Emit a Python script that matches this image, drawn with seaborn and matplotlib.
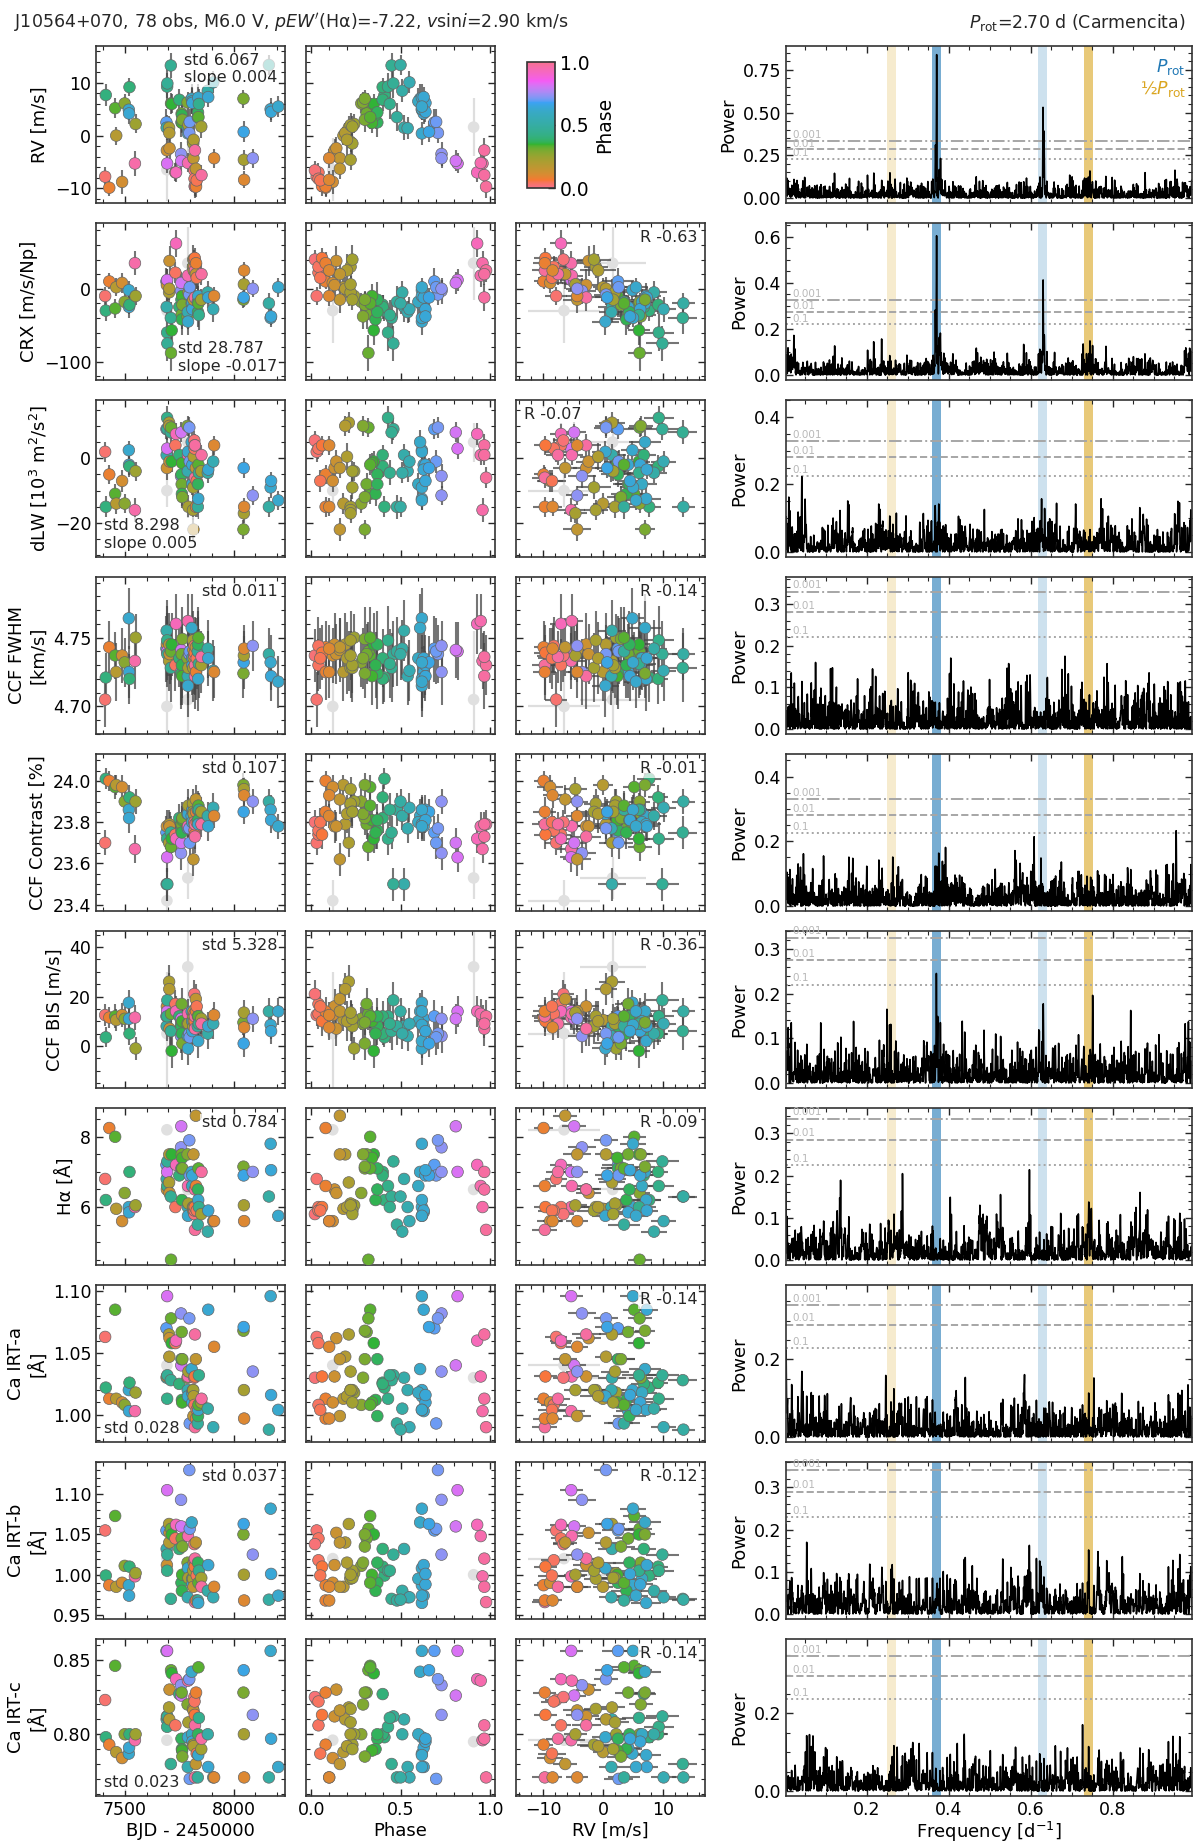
import numpy as np
import matplotlib
matplotlib.use("Agg")
import matplotlib.pyplot as plt
import matplotlib.transforms as mtransforms
from matplotlib.ticker import AutoMinorLocator
from matplotlib.cm import ScalarMappable
from matplotlib.colors import Normalize
import seaborn as sns

# ------------------------------------------------------------------ data
P_ROT = 2.70
T0 = 7400.0

day = [7409, 7412, 7428, 7455, 7460, 7487, 7499, 7518, 7519, 7521,
       7546, 7549, 7691, 7692, 7693, 7693, 7694, 7694, 7695, 7703,
       7704, 7705, 7711, 7712, 7715, 7732, 7735, 7750, 7758, 7759,
       7760, 7761, 7762, 7763, 7764, 7788, 7789, 7789, 7790, 7790,
       7792, 7796, 7798, 7807, 7809, 7810, 7813, 7814, 7815, 7816,
       7819, 7820, 7821, 7822, 7822, 7826, 7827, 7830, 7835, 7836,
       7837, 7838, 7840, 7851, 7852, 7881, 7883, 7906, 7910, 8045,
       8046, 8047, 8048, 8088, 8162, 8170, 8172, 8205]

phase = [0.03, 0.41, 0.08, 0.33, 0.18, 0.12, 0.28, 0.62, 0.63, 0.40,
         0.96, 0.24, 0.69, 0.52, 0.13, 0.12, 0.82, 0.43, 0.46, 0.21,
         0.19, 0.14, 0.45, 0.32, 0.35, 0.04, 0.93, 0.40, 0.73, 0.81,
         0.37, 0.31, 0.36, 0.34, 0.30, 0.29, 0.54, 0.91, 0.95, 0.62,
         0.22, 0.71, 0.70, 0.61, 0.60, 0.64, 0.22, 0.23, 0.16, 0.20,
         0.02, 0.04, 0.06, 0.98, 0.97, 0.16, 0.08, 0.05, 0.48, 0.37,
         0.62, 0.33, 0.44, 0.23, 0.97, 0.51, 0.63, 0.55, 0.10, 0.30,
         0.66, 0.22, 0.10, 0.73, 0.50, 0.62, 0.64, 0.62]

excluded_idx = [15, 37]

rv = [-7.8, 7.7, -9.9, 5.2, 0.0, -8.8, 6.1, 4.9, 4.2, 9.2,
      -5.3, 2.2, 2.5, 1.5, -2.8, -6.5, -5.3, 9.3, 9.9, 1.5,
      0.5, -2.4, 13.3, 6.1, 6.0, -7.0, -7.0, 6.8, -3.5, -4.8,
      2.5, 4.2, 3.9, 2.4, 3.0, 6.3, 1.4, 1.6, -5.2, 0.4,
      2.0, 0.5, 2.6, 7.0, 6.5, 6.2, -1.2, -1.5, -4.3, -0.8,
      -6.6, -8.2, -9.6, -9.7, -2.8, -6.3, -9.7, -8.5, 3.5, 4.4,
      7.2, 3.5, 6.0, 1.7, -7.5, 8.5, 7.3, 10.1, -4.3, 7.0,
      0.7, -4.6, -8.4, -4.3, 13.4, 5.0, 4.5, 5.5]
rv_err = [1.8, 2.0, 1.6, 1.9, 1.7, 2.2, 1.8, 1.9, 2.0, 1.7,
          2.3, 1.8, 2.6, 2.4, 2.2, 6.0, 1.9, 2.5, 2.7, 2.2,
          1.9, 2.1, 2.4, 2.0, 1.8, 1.7, 1.9, 2.1, 2.3, 2.0,
          2.8, 2.2, 2.6, 1.9, 2.4, 2.0, 2.1, 5.5, 1.8, 2.2,
          2.3, 2.0, 2.4, 2.7, 2.5, 2.2, 2.0, 2.9, 2.3, 3.0,
          1.8, 2.2, 1.9, 2.1, 2.4, 2.0, 1.9, 2.3, 2.6, 2.8,
          2.5, 2.3, 2.9, 2.1, 2.0, 2.2, 1.9, 2.1, 1.8, 1.7,
          2.0, 1.9, 1.6, 1.8, 1.9, 2.1, 1.9, 2.0]

crx = [-10, -30, 10, -27, 2, 8, -18, -2, -25, -22,
       35, -10, 10, -25, 5, -30, 12, -60, -75, -5,
       0, 38, -40, -88, -57, 22, 62, -25, -3, 8,
       -15, -35, -42, -10, -22, -38, -32, 35, 18, -45,
       -5, -8, 2, -20, -18, -28, 30, 40, -15, 25,
       40, 30, 42, 25, -12, 20, 35, 15, -18, -32,
       -10, -20, -36, -15, 20, -5, -12, -28, -10, -15,
       -12, 6, 25, 0, -20, -40, -38, 2]
crx_err = [12, 14, 11, 13, 12, 14, 12, 13, 15, 13,
           16, 12, 18, 20, 22, 45, 15, 25, 24, 18,
           16, 20, 22, 25, 20, 14, 18, 16, 18, 15,
           24, 20, 22, 16, 18, 17, 15, 50, 16, 18,
           15, 14, 16, 20, 18, 17, 15, 20, 18, 22,
           13, 15, 14, 16, 18, 20, 15, 16, 22, 20,
           18, 17, 20, 14, 15, 16, 14, 17, 13, 12,
           13, 12, 11, 12, 14, 13, 12, 13]

dlw = [2, -15, -5, -11, -14, -7, -14, 2.5, -2, -2.5,
       -16, -4, 9, 1, -3, -10, 3, 12.5, 9, 11,
       10, -1, 8, 9.5, -1, 4, 7.5, 1, -5.5, 8,
       -5, -8, -11, -1.5, -12, 10, -4, 5, 1, 2,
       -15, 9.5, -1, 5, -8, -2, -16, -9, -22, 0.5,
       5.5, 3, 4, -6, 4, -3, -15, -7, -15, -8,
       -12.5, -2, -4.5, -4, 1, -4.5, -3.5, -1, 4, -22,
       -3, -17, -15, -11.5, -15, -9, -7, -13]
dlw_err = [3.0, 3.2, 2.8, 3.1, 3.3, 3.5, 3.0, 2.9, 3.1, 3.4,
           3.6, 3.0, 3.2, 3.5, 3.8, 5.0, 3.3, 3.6, 3.4, 3.2,
           3.1, 3.5, 3.7, 3.0, 3.3, 2.9, 3.4, 3.2, 3.6, 3.1,
           3.9, 3.4, 3.6, 3.0, 3.5, 3.2, 3.3, 6.0, 3.1, 3.4,
           3.5, 3.2, 3.6, 3.8, 3.4, 3.3, 3.1, 3.7, 3.5, 4.2,
           2.9, 3.2, 3.0, 3.3, 3.6, 3.1, 3.0, 3.4, 3.8, 3.6,
           3.5, 3.3, 3.9, 3.1, 3.0, 3.2, 3.0, 3.3, 2.9, 2.8,
           3.0, 2.9, 2.8, 3.0, 3.1, 3.2, 2.9, 3.0]

fwhm = [4.705, 4.721, 4.743, 4.737, 4.725, 4.737, 4.732, 4.764, 4.725, 4.720,
        4.733, 4.750, 4.742, 4.755, 4.745, 4.700, 4.740, 4.748, 4.738, 4.733,
        4.745, 4.738, 4.728, 4.740, 4.745, 4.730, 4.760, 4.735, 4.725, 4.741,
        4.724, 4.738, 4.730, 4.722, 4.749, 4.735, 4.722, 4.705, 4.762, 4.715,
        4.728, 4.738, 4.740, 4.757, 4.735, 4.730, 4.748, 4.728, 4.741, 4.735,
        4.737, 4.744, 4.739, 4.730, 4.722, 4.743, 4.725, 4.735, 4.740, 4.745,
        4.720, 4.750, 4.731, 4.730, 4.736, 4.742, 4.735, 4.726, 4.725, 4.724,
        4.732, 4.737, 4.742, 4.744, 4.738, 4.732, 4.722, 4.718]
fwhm_err = [0.020, 0.018, 0.019, 0.017, 0.021, 0.020, 0.018, 0.022, 0.019, 0.018,
            0.020, 0.017, 0.024, 0.022, 0.023, 0.040, 0.021, 0.025, 0.024, 0.022,
            0.023, 0.022, 0.025, 0.021, 0.023, 0.019, 0.022, 0.021, 0.024, 0.020,
            0.026, 0.022, 0.024, 0.021, 0.023, 0.022, 0.021, 0.050, 0.020, 0.023,
            0.022, 0.021, 0.024, 0.025, 0.023, 0.022, 0.021, 0.025, 0.023, 0.026,
            0.019, 0.021, 0.020, 0.022, 0.024, 0.021, 0.020, 0.022, 0.025, 0.024,
            0.023, 0.022, 0.025, 0.020, 0.019, 0.021, 0.020, 0.022, 0.019, 0.018,
            0.019, 0.018, 0.017, 0.018, 0.019, 0.020, 0.018, 0.019]

contrast = [23.70, 24.01, 24.00, 23.97, 23.98, 23.97, 23.90, 23.86, 23.82, 23.92,
            23.67, 23.90, 23.75, 23.50, 23.78, 23.42, 23.63, 23.72, 23.50, 23.70,
            23.79, 23.78, 23.75, 23.68, 23.72, 23.74, 23.72, 23.82, 23.65, 23.70,
            23.76, 23.79, 23.75, 23.81, 23.82, 23.84, 23.77, 23.53, 23.78, 23.84,
            23.88, 23.77, 23.70, 23.83, 23.80, 23.86, 23.89, 23.85, 23.62, 23.84,
            23.80, 23.76, 23.74, 23.79, 23.73, 23.91, 23.85, 23.80, 23.86, 23.81,
            23.79, 23.88, 23.86, 23.85, 23.79, 23.83, 23.78, 23.87, 23.83, 23.98,
            23.85, 23.96, 23.93, 23.90, 23.90, 23.86, 23.81, 23.78]
contrast_err = [0.06, 0.05, 0.05, 0.06, 0.05, 0.06, 0.06, 0.06, 0.07, 0.06,
                0.07, 0.06, 0.08, 0.08, 0.08, 0.10, 0.07, 0.08, 0.08, 0.07,
                0.07, 0.07, 0.08, 0.07, 0.07, 0.06, 0.07, 0.07, 0.08, 0.07,
                0.09, 0.07, 0.08, 0.07, 0.08, 0.07, 0.07, 0.10, 0.07, 0.08,
                0.08, 0.07, 0.08, 0.08, 0.08, 0.07, 0.07, 0.08, 0.08, 0.09,
                0.06, 0.07, 0.07, 0.07, 0.08, 0.07, 0.07, 0.07, 0.08, 0.08,
                0.08, 0.07, 0.08, 0.07, 0.06, 0.07, 0.07, 0.07, 0.06, 0.06,
                0.06, 0.06, 0.06, 0.06, 0.06, 0.07, 0.06, 0.06]

bis = [12.5, 3.5, 11.5, 12.0, 10.5, 12.5, 11.0, 17.5, 11.0, 5.0,
       11.5, -1.0, 12.0, 8.0, 16.0, 5.0, 14.0, 12.0, 18.5, 26.0,
       23.0, 7.0, 6.0, 13.0, -2.0, 17.0, 14.0, 12.0, 4.0, 11.0,
       8.0, 17.0, 5.0, 10.0, 1.0, 9.0, 4.0, 32.0, 13.0, -1.0,
       9.0, 5.0, 3.5, 14.0, 10.0, 6.0, 12.0, 8.0, 14.0, 10.0,
       21.0, 13.0, 10.0, 12.0, 7.0, 19.0, 14.0, 16.0, 8.0, 12.0,
       2.0, 12.0, 9.0, 11.0, 9.0, 5.0, 8.0, 9.0, 12.5, 9.5,
       1.0, 13.5, 7.5, 11.0, 14.0, 8.5, 6.0, 14.0]
bis_err = [4.5, 4.0, 4.2, 4.8, 4.5, 5.0, 4.6, 5.2, 5.5, 4.8,
           5.0, 4.7, 6.5, 6.0, 7.0, 25.0, 6.2, 7.5, 7.2, 6.8,
           6.5, 7.0, 7.5, 6.4, 6.8, 5.5, 6.2, 6.0, 6.8, 6.0,
           7.8, 6.5, 7.0, 6.2, 6.8, 6.4, 6.2, 18.0, 5.8, 6.6,
           6.8, 6.2, 7.0, 7.5, 7.0, 6.5, 6.2, 7.4, 6.8, 8.0,
           5.5, 6.2, 5.8, 6.4, 7.0, 6.0, 5.8, 6.5, 7.5, 7.2,
           7.0, 6.6, 7.6, 6.0, 5.8, 6.4, 5.6, 6.2, 5.4, 5.0,
           5.4, 5.2, 5.0, 5.2, 5.4, 5.8, 5.2, 5.4]

halpha = [6.8, 6.2, 8.25, 8.0, 5.95, 5.6, 6.4, 6.0, 5.85, 7.0,
          6.0, 6.05, 7.2, 6.8, 6.5, 8.2, 7.0, 6.6, 7.3, 6.7,
          7.5, 6.4, 6.3, 4.5, 7.5, 6.0, 7.2, 6.9, 7.7, 8.3,
          7.1, 7.5, 6.2, 7.4, 7.1, 7.5, 6.0, 6.5, 6.6, 5.75,
          6.1, 7.9, 6.9, 7.0, 6.6, 6.9, 6.0, 5.9, 7.5, 6.0,
          5.8, 5.9, 6.0, 5.35, 6.5, 8.6, 6.6, 5.9, 5.5, 6.5,
          6.2, 7.1, 6.0, 5.8, 7.0, 5.3, 5.9, 5.6, 5.6, 7.15,
          6.9, 6.05, 5.6, 7.0, 6.3, 7.8, 7.05, 5.75]

irt_a = [1.063, 1.022, 1.013, 1.085, 1.013, 1.010, 1.008, 1.020, 1.003, 1.026,
         1.003, 1.018, 1.070, 1.030, 1.031, 1.040, 1.096, 1.013, 1.032, 1.065,
         1.047, 1.062, 1.028, 1.078, 1.058, 1.058, 1.060, 1.025, 1.082, 1.040,
         1.045, 1.067, 1.012, 1.010, 1.045, 1.030, 1.020, 1.030, 1.031, 1.015,
         1.035, 1.078, 0.993, 1.037, 1.018, 1.010, 1.020, 1.020, 0.999, 1.015,
         1.030, 1.008, 1.031, 0.990, 1.065, 1.045, 0.997, 1.004, 0.993, 0.999,
         1.004, 1.008, 1.032, 1.010, 1.013, 1.005, 1.085, 0.990, 1.055, 1.068,
         1.071, 1.020, 0.997, 1.035, 0.988, 1.096, 1.016, 1.004]

irt_b = [1.055, 0.999, 0.987, 1.073, 0.985, 0.990, 1.011, 0.987, 0.974, 1.010,
         0.998, 1.002, 1.055, 1.032, 1.012, 1.020, 1.105, 1.005, 1.025, 1.063,
         1.040, 1.052, 0.970, 1.057, 1.050, 1.045, 1.062, 1.032, 1.093, 1.060,
         0.990, 1.045, 0.980, 1.000, 1.035, 1.015, 0.972, 1.000, 1.048, 1.008,
         0.996, 1.130, 1.057, 1.065, 0.995, 0.988, 0.995, 1.005, 0.985, 1.015,
         1.038, 1.018, 1.010, 0.966, 1.020, 1.040, 0.968, 0.999, 0.968, 1.015,
         0.965, 0.990, 1.005, 0.996, 0.985, 0.980, 1.012, 0.972, 0.985, 1.050,
         1.063, 1.000, 0.968, 1.025, 0.969, 1.082, 1.001, 0.974]

irt_c = [0.823, 0.798, 0.793, 0.846, 0.788, 0.784, 0.800, 0.787, 0.791, 0.800,
         0.796, 0.800, 0.856, 0.810, 0.812, 0.796, 0.856, 0.805, 0.812, 0.818,
         0.810, 0.830, 0.780, 0.843, 0.841, 0.806, 0.837, 0.827, 0.833, 0.826,
         0.797, 0.828, 0.790, 0.789, 0.785, 0.820, 0.778, 0.795, 0.836, 0.798,
         0.808, 0.837, 0.770, 0.842, 0.800, 0.795, 0.817, 0.793, 0.816, 0.792,
         0.825, 0.822, 0.813, 0.771, 0.806, 0.780, 0.828, 0.787, 0.771, 0.800,
         0.786, 0.845, 0.811, 0.790, 0.797, 0.800, 0.778, 0.771, 0.771, 0.828,
         0.843, 0.800, 0.771, 0.813, 0.771, 0.856, 0.797, 0.778]

row_labels = ["RV [m/s]", "CRX [m/s/Np]", r"dLW [10$^3$ m$^2$/s$^2$]",
              "CCF FWHM\n[km/s]", "CCF Contrast [%]", "CCF BIS [m/s]",
              "Hα [Å]", "Ca IRT-a\n[Å]", "Ca IRT-b\n[Å]", "Ca IRT-c\n[Å]"]
row_values = [rv, crx, dlw, fwhm, contrast, bis, halpha, irt_a, irt_b, irt_c]
row_errors = [rv_err, crx_err, dlw_err, fwhm_err, contrast_err, bis_err,
              None, None, None, None]
std_texts = ["std 6.067\nslope 0.004", "std 28.787\nslope -0.017",
             "std 8.298\nslope 0.005", "std 0.011", "std 0.107", "std 5.328",
             "std 0.784", "std 0.028", "std 0.037", "std 0.023"]
r_texts = [None, "R -0.63", "R -0.07", "R -0.14", "R -0.01", "R -0.36",
           "R -0.09", "R -0.14", "R -0.12", "R -0.14"]
fap_levels = [(0.228, 0.285, 0.334), (0.22, 0.275, 0.325), (0.225, 0.28, 0.33),
              (0.22, 0.28, 0.33), (0.225, 0.28, 0.33), (0.22, 0.275, 0.325),
              (0.225, 0.285, 0.335), (0.23, 0.29, 0.34), (0.23, 0.29, 0.34),
              (0.238, 0.297, 0.348)]
fap_names = ["0.1", "0.01", "0.001"]

# ------------------------------------------------------------------ layout / style
std_locs = ['tr', 'br', 'bl', 'tr', 'tr', 'tr', 'tr', 'bl', 'tr', 'bl']
r_locs = [None, 'tr', 'tl', 'tr', 'tr', 'tr', 'tr', 'tr', 'tr', 'tr']
ylims = [(-12.8, 17.0), (-125, 90), (-30.5, 18), (4.680, 4.794), (23.37, 24.13),
         (-17, 46.5), (4.35, 8.82), (0.978, 1.105), (0.945, 1.140), (0.7585, 0.864)]
pg_tops = [0.857, 0.66, 0.45, 0.365, 0.47, 0.34, 0.36, 0.392, 0.36, 0.392]

W, H = 1200, 1842
COL_L = [96, 306, 516, 786]
COL_W = [189, 189, 189, 406]
ROW_T0, ROW_PITCH, ROW_H = 46, 177, 157
PROT_C = "#1f77b4"
HALF_C = "#DAA520"

sns.set_theme(style="ticks")
plt.rcParams.update({
    "font.family": ["DejaVu Sans"],
    "xtick.direction": "in", "ytick.direction": "in",
    "xtick.top": True, "ytick.right": True,
    "xtick.minor.visible": True, "ytick.minor.visible": True,
    "xtick.major.size": 5, "ytick.major.size": 5,
    "xtick.minor.size": 2.8, "ytick.minor.size": 2.8,
    "xtick.major.width": 1.0, "ytick.major.width": 1.0,
    "xtick.minor.width": 0.8, "ytick.minor.width": 0.8,
    "xtick.color": "0.15", "ytick.color": "0.15",
    "xtick.labelcolor": "black", "ytick.labelcolor": "black",
    "xtick.labelsize": 12.5, "ytick.labelsize": 12.5,
    "axes.labelsize": 13, "axes.edgecolor": "0.2", "axes.linewidth": 1.2,
    "axes.labelcolor": "black",
})

cmap = sns.color_palette("husl", as_cmap=True)

day_a = np.array(day, float)
ph_a = np.array(phase, float)
rv_a = np.array(rv, float)
rve_a = np.array(rv_err, float)
n = len(day_a)
excl = np.zeros(n, bool)
excl[excluded_idx] = True
incl = ~excl

# timestamps consistent with the read phases (for the periodograms):
# nearest night-time slot to the read date that reproduces the read phase
t_exact = []
for d, p in zip(day_a, ph_a):
    nights = (np.arange(int(d) - 12, int(d) + 13)[:, None]
              + np.array([0.38, 0.52, 0.66])[None, :]).ravel()
    pn = ((nights - T0) / P_ROT) % 1.0
    diff = (p - pn + 0.5) % 1.0 - 0.5
    k = np.argmin(np.abs(diff))
    t_exact.append(nights[k] + diff[k] * P_ROT)
t_exact = np.array(t_exact)

freq = np.linspace(0.003, 0.993, 20000)
tt = t_exact[incl] - t_exact[incl].mean()
arg = 2 * np.pi * freq[:, None] * tt[None, :]
COS, SIN = np.cos(arg), np.sin(arg)
COS2, SIN2, CSN = COS * COS, SIN * SIN, COS * SIN


def gls(y, err):
    w = np.ones_like(y) if err is None else 1.0 / err ** 2
    w = w / w.sum()
    Y = np.sum(w * y)
    YY = np.sum(w * y * y) - Y * Y
    C = COS @ w
    S = SIN @ w
    YC = COS @ (w * y) - Y * C
    YS = SIN @ (w * y) - Y * S
    CC = COS2 @ w - C * C
    SS = SIN2 @ w - S * S
    CS = CSN @ w - C * S
    D = CC * SS - CS * CS
    return (SS * YC ** 2 + CC * YS ** 2 - 2 * CS * YC * YS) / (YY * D)


def rect(r, c):
    top = ROW_T0 + ROW_PITCH * r
    return [COL_L[c] / W, 1 - (top + ROW_H) / H, COL_W[c] / W, ROW_H / H]


S = 70


def draw(ax, x, y, xerr, yerr):
    ax.errorbar(x[excl], y[excl], xerr=None if xerr is None else xerr[excl],
                yerr=None if yerr is None else yerr[excl], fmt="none",
                ecolor="0.87", elinewidth=1.6, zorder=1)
    sns.scatterplot(x=x[excl], y=y[excl], color="0.88", s=S, edgecolor="none",
                    ax=ax, zorder=1.5, legend=False)
    ax.errorbar(x[incl], y[incl], xerr=None if xerr is None else xerr[incl],
                yerr=None if yerr is None else yerr[incl], fmt="none",
                ecolor="0.28", alpha=0.75, elinewidth=1.5, zorder=2)
    sns.scatterplot(x=x[incl], y=y[incl], hue=ph_a[incl], palette=cmap,
                    hue_norm=(0, 1), s=S, edgecolor="0.4", linewidth=0.5,
                    ax=ax, zorder=3, legend=False)


LOC = {'tr': (0.96, 0.955, 'right', 'top'), 'tl': (0.04, 0.955, 'left', 'top'),
       'br': (0.96, 0.04, 'right', 'bottom'), 'bl': (0.04, 0.04, 'left', 'bottom')}


def put_text(ax, txt, loc):
    x, y, ha, va = LOC[loc]
    ax.text(x, y, txt, transform=ax.transAxes, ha=ha, va=va, fontsize=11.5,
            multialignment='left', zorder=5,
            bbox=dict(facecolor="white", alpha=0.7, edgecolor="none", pad=1.0))


fig = plt.figure(figsize=(W / 100, H / 100), dpi=100)

nrows = len(row_values)
for r in range(nrows):
    y = np.array(row_values[r], float)
    ye = None if row_errors[r] is None else np.array(row_errors[r], float)
    last = r == nrows - 1

    axL = fig.add_axes(rect(r, 0))
    draw(axL, day_a, y, None, ye)
    axL.set_xlim(7367, 8236)
    axL.set_ylim(*ylims[r])
    axL.set_ylabel(row_labels[r])
    axL.set_xlabel("BJD - 2450000" if last else "", labelpad=2)
    axL.tick_params(labelbottom=last)
    put_text(axL, std_texts[r], std_locs[r])

    axM = fig.add_axes(rect(r, 1))
    draw(axM, ph_a, y, None, ye)
    axM.set_xlim(-0.03, 1.03)
    axM.set_ylim(*ylims[r])
    axM.set_ylabel("")
    axM.set_xlabel("Phase" if last else "", labelpad=2)
    axM.tick_params(labelbottom=last, labelleft=False)

    if r > 0:
        axR = fig.add_axes(rect(r, 2))
        draw(axR, rv_a, y, rve_a, ye)
        axR.set_xlim(-14.5, 17.0)
        axR.set_ylim(*ylims[r])
        axR.set_ylabel("")
        axR.set_xlabel("RV [m/s]" if last else "", labelpad=2)
        axR.tick_params(labelbottom=last, labelleft=False)
        put_text(axR, r_texts[r], r_locs[r])

    # periodogram
    axP = fig.add_axes(rect(r, 3))
    pw = gls(y[incl], None if ye is None else ye[incl])
    f1 = 1.0 / P_ROT
    f2 = 2.0 / P_ROT
    hw = 0.011
    axP.axvspan(f1 - hw, f1 + hw, color=PROT_C, alpha=0.6, lw=0, zorder=0)
    axP.axvspan(1 - f1 - hw, 1 - f1 + hw, color=PROT_C, alpha=0.22, lw=0, zorder=0)
    axP.axvspan(f2 - hw, f2 + hw, color=HALF_C, alpha=0.6, lw=0, zorder=0)
    axP.axvspan(1 - f2 - hw, 1 - f2 + hw, color=HALF_C, alpha=0.22, lw=0, zorder=0)
    sns.lineplot(x=freq, y=pw, ax=axP, color="black", lw=1.15, estimator=None,
                 sort=False, zorder=2)
    trans = mtransforms.blended_transform_factory(axP.transAxes, axP.transData)
    for lev, ls, name in zip(fap_levels[r], [":", "--", "-."], fap_names):
        axP.axhline(lev, color="0.65", ls=ls, lw=1.4, zorder=1)
        axP.text(0.015, lev + 0.003, name, transform=trans, fontsize=7.5,
                 color="0.72", ha="left", va="bottom")
    top = max(pg_tops[r], pw.max() * 1.06)
    axP.set_ylim(-0.033 * top, top)
    axP.set_xlim(0.003, 0.993)
    axP.set_ylabel("Power")
    axP.set_xlabel(r"Frequency [d$^{-1}$]" if last else "", labelpad=1)
    axP.tick_params(labelbottom=last)
    if r == 0:
        axP.text(0.985, 0.93, r"$P_{\rm rot}$", color=PROT_C, transform=axP.transAxes,
                 ha="right", va="top", fontsize=12.5)
        axP.text(0.985, 0.79, r"½$P_{\rm rot}$", color=HALF_C, transform=axP.transAxes,
                 ha="right", va="top", fontsize=12.5)

    for ax in fig.axes[-4:]:
        ax.xaxis.set_minor_locator(AutoMinorLocator())
        ax.yaxis.set_minor_locator(AutoMinorLocator())

# colour bar in the empty first-row slot
cax = fig.add_axes([527 / W, 1 - 188 / H, 28 / W, 126 / H])
cb = fig.colorbar(ScalarMappable(norm=Normalize(0, 1), cmap=cmap), cax=cax,
                  ticks=[0.0, 0.5, 1.0], format="%.1f")
cb.outline.set_linewidth(1.2)
cax.tick_params(direction="in", labelsize=13.5, length=5, right=True, left=False,
                which="major")
cax.minorticks_off()
cax.set_ylabel("Phase", fontsize=13.5)

fig.text(14 / W, 1 - 28 / H,
         r"J10564+070, 78 obs, M6.0 V, $pEW'$(Hα)=-7.22, $v$sin$i$=2.90 km/s",
         fontsize=12.5, ha="left", va="baseline")
fig.text(1186 / W, 1 - 28 / H, r"$P_{\rm rot}$=2.70 d (Carmencita)",
         fontsize=12.5, ha="right", va="baseline")

fig.savefig("out.png", dpi=100)
